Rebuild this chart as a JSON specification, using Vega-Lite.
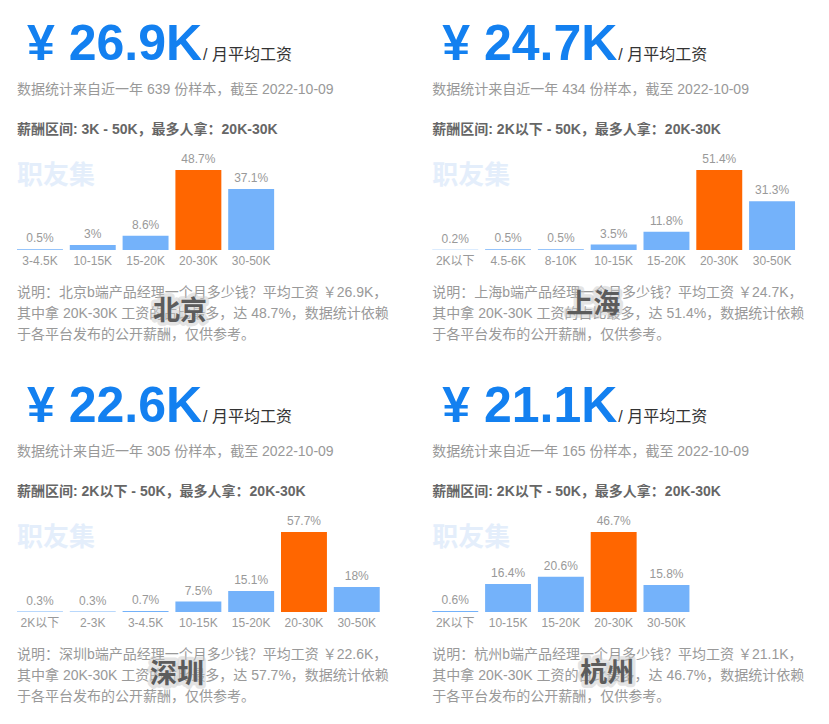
{
  "$schema": "https://vega.github.io/schema/vega-lite/v6.json",
  "background": "white",
  "padding": {"top": 20, "left": 17, "right": 10, "bottom": 10},
  "config": {"view": {"stroke": null}, "font": "Liberation Sans, Noto Sans CJK SC"},
  "datasets": {
    "bars": [
      {"city": "北京", "range": "3-4.5K", "share": 0.005},
      {"city": "北京", "range": "10-15K", "share": 0.03},
      {"city": "北京", "range": "15-20K", "share": 0.086},
      {"city": "北京", "range": "20-30K", "share": 0.487},
      {"city": "北京", "range": "30-50K", "share": 0.371},
      {"city": "上海", "range": "2K以下", "share": 0.002},
      {"city": "上海", "range": "4.5-6K", "share": 0.005},
      {"city": "上海", "range": "8-10K", "share": 0.005},
      {"city": "上海", "range": "10-15K", "share": 0.035},
      {"city": "上海", "range": "15-20K", "share": 0.118},
      {"city": "上海", "range": "20-30K", "share": 0.514},
      {"city": "上海", "range": "30-50K", "share": 0.313},
      {"city": "深圳", "range": "2K以下", "share": 0.003},
      {"city": "深圳", "range": "2-3K", "share": 0.003},
      {"city": "深圳", "range": "3-4.5K", "share": 0.007},
      {"city": "深圳", "range": "10-15K", "share": 0.075},
      {"city": "深圳", "range": "15-20K", "share": 0.151},
      {"city": "深圳", "range": "20-30K", "share": 0.577},
      {"city": "深圳", "range": "30-50K", "share": 0.18},
      {"city": "杭州", "range": "2K以下", "share": 0.006},
      {"city": "杭州", "range": "10-15K", "share": 0.164},
      {"city": "杭州", "range": "15-20K", "share": 0.206},
      {"city": "杭州", "range": "20-30K", "share": 0.467},
      {"city": "杭州", "range": "30-50K", "share": 0.158}
    ],
    "info": [
      {"city": "北京", "headline": "¥ 26.9K", "unit": "/ 月平均工资", "brand": "职友集",
       "source": "数据统计来自近一年 639 份样本，截至 2022-10-09",
       "summary": "薪酬区间: 3K - 50K，最多人拿：20K-30K",
       "note": ["说明：北京b端产品经理一个月多少钱？平均工资 ￥26.9K，", "其中拿 20K-30K 工资的占比最多，达 48.7%，数据统计依赖", "于各平台发布的公开薪酬，仅供参考。"]},
      {"city": "上海", "headline": "¥ 24.7K", "unit": "/ 月平均工资", "brand": "职友集",
       "source": "数据统计来自近一年 434 份样本，截至 2022-10-09",
       "summary": "薪酬区间: 2K以下 - 50K，最多人拿：20K-30K",
       "note": ["说明：上海b端产品经理一个月多少钱？平均工资 ￥24.7K，", "其中拿 20K-30K 工资的占比最多，达 51.4%，数据统计依赖", "于各平台发布的公开薪酬，仅供参考。"]},
      {"city": "深圳", "headline": "¥ 22.6K", "unit": "/ 月平均工资", "brand": "职友集",
       "source": "数据统计来自近一年 305 份样本，截至 2022-10-09",
       "summary": "薪酬区间: 2K以下 - 50K，最多人拿：20K-30K",
       "note": ["说明：深圳b端产品经理一个月多少钱？平均工资 ￥22.6K，", "其中拿 20K-30K 工资的占比最多，达 57.7%，数据统计依赖", "于各平台发布的公开薪酬，仅供参考。"]},
      {"city": "杭州", "headline": "¥ 21.1K", "unit": "/ 月平均工资", "brand": "职友集",
       "source": "数据统计来自近一年 165 份样本，截至 2022-10-09",
       "summary": "薪酬区间: 2K以下 - 50K，最多人拿：20K-30K",
       "note": ["说明：杭州b端产品经理一个月多少钱？平均工资 ￥21.1K，", "其中拿 20K-30K 工资的占比最多，达 46.7%，数据统计依赖", "于各平台发布的公开薪酬，仅供参考。"]}
    ]
  },
  "columns": 2,
  "spacing": {"row": 282, "column": 52.3},
  "bounds": "flush",
  "concat": [
    {
      "width": {"step": 52.8}, "height": 80,
      "layer": [
        {
          "data": {"name": "bars"},
          "transform": [{"filter": "datum.city === '北京'"}],
          "encoding": {
            "x": {"field": "range", "type": "nominal", "sort": null, "scale": {"paddingInner": 0.13, "paddingOuter": 0},
                  "axis": {"title": null, "ticks": false, "tickSize": 0, "domain": false, "labelPadding": 5, "labelAngle": 0, "labelFontSize": 12, "labelColor": "#999999", "labelFont": "Liberation Sans, Noto Sans CJK SC"}},
            "y": {"field": "share", "type": "quantitative", "scale": {"nice": false, "zero": true}, "axis": null}
          },
          "layer": [
            {"mark": {"type": "bar"}, "encoding": {"color": {"condition": {"test": "datum.range === '20-30K'", "value": "#ff6600"}, "value": "#74b2fa"}}},
            {"mark": {"type": "text", "baseline": "alphabetic", "dy": -7, "fontSize": 12, "color": "#999999", "font": "Liberation Sans"},
             "encoding": {"text": {"field": "share", "type": "quantitative", "format": ".1~%"}}}
          ]
        },
        {
          "data": {"name": "info"},
          "transform": [{"filter": "datum.city === '北京'"}],
          "layer": [
            {"mark": {"type": "text", "align": "left", "baseline": "middle", "fontSize": 26, "fontWeight": "bold", "color": "#e4eefb", "font": "Noto Sans CJK SC"}, "encoding": {"x": {"value": 0}, "y": {"value": 6}, "text": {"field": "brand"}}},
            {"mark": {"type": "text", "align": "left", "baseline": "alphabetic", "fontSize": 50, "fontWeight": "bold", "color": "#1380f0", "font": "Liberation Sans"}, "encoding": {"x": {"value": 10}, "y": {"value": -110}, "text": {"field": "headline"}}},
            {"mark": {"type": "text", "align": "left", "baseline": "alphabetic", "fontSize": 16, "color": "#333333"}, "encoding": {"x": {"value": 186}, "y": {"value": -110}, "text": {"field": "unit"}}},
            {"mark": {"type": "text", "align": "left", "baseline": "middle", "fontSize": 14, "color": "#999999"}, "encoding": {"x": {"value": 0}, "y": {"value": -80}, "text": {"field": "source"}}},
            {"mark": {"type": "text", "align": "left", "baseline": "middle", "fontSize": 14, "fontWeight": "bold", "color": "#666666"}, "encoding": {"x": {"value": 0}, "y": {"value": -40}, "text": {"field": "summary"}}},
            {"mark": {"type": "text", "align": "left", "baseline": "top", "fontSize": 14, "lineHeight": 21, "color": "#999999"}, "encoding": {"x": {"value": 0}, "y": {"value": 116}, "text": {"field": "note"}}},
            {"mark": {"type": "text", "align": "center", "baseline": "middle", "fontSize": 27, "fontWeight": "bold", "color": "#c8c8c8", "stroke": "#c8c8c8", "strokeWidth": 7, "strokeOpacity": 0.6, "strokeJoin": "round", "opacity": 0.8, "font": "Noto Sans CJK SC"}, "encoding": {"x": {"value": 163}, "y": {"value": 142}, "text": {"field": "city"}}},
            {"mark": {"type": "text", "align": "center", "baseline": "middle", "fontSize": 27, "fontWeight": "bold", "color": "#5c5c5c", "font": "Noto Sans CJK SC"}, "encoding": {"x": {"value": 163}, "y": {"value": 142}, "text": {"field": "city"}}}
          ]
        }
      ]
    },
    {
      "width": {"step": 52.8}, "height": 80,
      "layer": [
        {
          "data": {"name": "bars"},
          "transform": [{"filter": "datum.city === '上海'"}],
          "encoding": {
            "x": {"field": "range", "type": "nominal", "sort": null, "scale": {"paddingInner": 0.13, "paddingOuter": 0},
                  "axis": {"title": null, "ticks": false, "tickSize": 0, "domain": false, "labelPadding": 5, "labelAngle": 0, "labelFontSize": 12, "labelColor": "#999999", "labelFont": "Liberation Sans, Noto Sans CJK SC"}},
            "y": {"field": "share", "type": "quantitative", "scale": {"nice": false, "zero": true}, "axis": null}
          },
          "layer": [
            {"mark": {"type": "bar"}, "encoding": {"color": {"condition": {"test": "datum.range === '20-30K'", "value": "#ff6600"}, "value": "#74b2fa"}}},
            {"mark": {"type": "text", "baseline": "alphabetic", "dy": -7, "fontSize": 12, "color": "#999999", "font": "Liberation Sans"},
             "encoding": {"text": {"field": "share", "type": "quantitative", "format": ".1~%"}}}
          ]
        },
        {
          "data": {"name": "info"},
          "transform": [{"filter": "datum.city === '上海'"}],
          "layer": [
            {"mark": {"type": "text", "align": "left", "baseline": "middle", "fontSize": 26, "fontWeight": "bold", "color": "#e4eefb", "font": "Noto Sans CJK SC"}, "encoding": {"x": {"value": 0}, "y": {"value": 6}, "text": {"field": "brand"}}},
            {"mark": {"type": "text", "align": "left", "baseline": "alphabetic", "fontSize": 50, "fontWeight": "bold", "color": "#1380f0", "font": "Liberation Sans"}, "encoding": {"x": {"value": 10}, "y": {"value": -110}, "text": {"field": "headline"}}},
            {"mark": {"type": "text", "align": "left", "baseline": "alphabetic", "fontSize": 16, "color": "#333333"}, "encoding": {"x": {"value": 186}, "y": {"value": -110}, "text": {"field": "unit"}}},
            {"mark": {"type": "text", "align": "left", "baseline": "middle", "fontSize": 14, "color": "#999999"}, "encoding": {"x": {"value": 0}, "y": {"value": -80}, "text": {"field": "source"}}},
            {"mark": {"type": "text", "align": "left", "baseline": "middle", "fontSize": 14, "fontWeight": "bold", "color": "#666666"}, "encoding": {"x": {"value": 0}, "y": {"value": -40}, "text": {"field": "summary"}}},
            {"mark": {"type": "text", "align": "left", "baseline": "top", "fontSize": 14, "lineHeight": 21, "color": "#999999"}, "encoding": {"x": {"value": 0}, "y": {"value": 116}, "text": {"field": "note"}}},
            {"mark": {"type": "text", "align": "center", "baseline": "middle", "fontSize": 27, "fontWeight": "bold", "color": "#c8c8c8", "stroke": "#c8c8c8", "strokeWidth": 7, "strokeOpacity": 0.6, "strokeJoin": "round", "opacity": 0.8, "font": "Noto Sans CJK SC"}, "encoding": {"x": {"value": 161}, "y": {"value": 135}, "text": {"field": "city"}}},
            {"mark": {"type": "text", "align": "center", "baseline": "middle", "fontSize": 27, "fontWeight": "bold", "color": "#5c5c5c", "font": "Noto Sans CJK SC"}, "encoding": {"x": {"value": 161}, "y": {"value": 135}, "text": {"field": "city"}}}
          ]
        }
      ]
    },
    {
      "width": {"step": 52.8}, "height": 80,
      "layer": [
        {
          "data": {"name": "bars"},
          "transform": [{"filter": "datum.city === '深圳'"}],
          "encoding": {
            "x": {"field": "range", "type": "nominal", "sort": null, "scale": {"paddingInner": 0.13, "paddingOuter": 0},
                  "axis": {"title": null, "ticks": false, "tickSize": 0, "domain": false, "labelPadding": 5, "labelAngle": 0, "labelFontSize": 12, "labelColor": "#999999", "labelFont": "Liberation Sans, Noto Sans CJK SC"}},
            "y": {"field": "share", "type": "quantitative", "scale": {"nice": false, "zero": true}, "axis": null}
          },
          "layer": [
            {"mark": {"type": "bar"}, "encoding": {"color": {"condition": {"test": "datum.range === '20-30K'", "value": "#ff6600"}, "value": "#74b2fa"}}},
            {"mark": {"type": "text", "baseline": "alphabetic", "dy": -7, "fontSize": 12, "color": "#999999", "font": "Liberation Sans"},
             "encoding": {"text": {"field": "share", "type": "quantitative", "format": ".1~%"}}}
          ]
        },
        {
          "data": {"name": "info"},
          "transform": [{"filter": "datum.city === '深圳'"}],
          "layer": [
            {"mark": {"type": "text", "align": "left", "baseline": "middle", "fontSize": 26, "fontWeight": "bold", "color": "#e4eefb", "font": "Noto Sans CJK SC"}, "encoding": {"x": {"value": 0}, "y": {"value": 6}, "text": {"field": "brand"}}},
            {"mark": {"type": "text", "align": "left", "baseline": "alphabetic", "fontSize": 50, "fontWeight": "bold", "color": "#1380f0", "font": "Liberation Sans"}, "encoding": {"x": {"value": 10}, "y": {"value": -110}, "text": {"field": "headline"}}},
            {"mark": {"type": "text", "align": "left", "baseline": "alphabetic", "fontSize": 16, "color": "#333333"}, "encoding": {"x": {"value": 186}, "y": {"value": -110}, "text": {"field": "unit"}}},
            {"mark": {"type": "text", "align": "left", "baseline": "middle", "fontSize": 14, "color": "#999999"}, "encoding": {"x": {"value": 0}, "y": {"value": -80}, "text": {"field": "source"}}},
            {"mark": {"type": "text", "align": "left", "baseline": "middle", "fontSize": 14, "fontWeight": "bold", "color": "#666666"}, "encoding": {"x": {"value": 0}, "y": {"value": -40}, "text": {"field": "summary"}}},
            {"mark": {"type": "text", "align": "left", "baseline": "top", "fontSize": 14, "lineHeight": 21, "color": "#999999"}, "encoding": {"x": {"value": 0}, "y": {"value": 116}, "text": {"field": "note"}}},
            {"mark": {"type": "text", "align": "center", "baseline": "middle", "fontSize": 27, "fontWeight": "bold", "color": "#c8c8c8", "stroke": "#c8c8c8", "strokeWidth": 7, "strokeOpacity": 0.6, "strokeJoin": "round", "opacity": 0.8, "font": "Noto Sans CJK SC"}, "encoding": {"x": {"value": 160}, "y": {"value": 143}, "text": {"field": "city"}}},
            {"mark": {"type": "text", "align": "center", "baseline": "middle", "fontSize": 27, "fontWeight": "bold", "color": "#5c5c5c", "font": "Noto Sans CJK SC"}, "encoding": {"x": {"value": 160}, "y": {"value": 143}, "text": {"field": "city"}}}
          ]
        }
      ]
    },
    {
      "width": {"step": 52.8}, "height": 80,
      "layer": [
        {
          "data": {"name": "bars"},
          "transform": [{"filter": "datum.city === '杭州'"}],
          "encoding": {
            "x": {"field": "range", "type": "nominal", "sort": null, "scale": {"paddingInner": 0.13, "paddingOuter": 0},
                  "axis": {"title": null, "ticks": false, "tickSize": 0, "domain": false, "labelPadding": 5, "labelAngle": 0, "labelFontSize": 12, "labelColor": "#999999", "labelFont": "Liberation Sans, Noto Sans CJK SC"}},
            "y": {"field": "share", "type": "quantitative", "scale": {"nice": false, "zero": true}, "axis": null}
          },
          "layer": [
            {"mark": {"type": "bar"}, "encoding": {"color": {"condition": {"test": "datum.range === '20-30K'", "value": "#ff6600"}, "value": "#74b2fa"}}},
            {"mark": {"type": "text", "baseline": "alphabetic", "dy": -7, "fontSize": 12, "color": "#999999", "font": "Liberation Sans"},
             "encoding": {"text": {"field": "share", "type": "quantitative", "format": ".1~%"}}}
          ]
        },
        {
          "data": {"name": "info"},
          "transform": [{"filter": "datum.city === '杭州'"}],
          "layer": [
            {"mark": {"type": "text", "align": "left", "baseline": "middle", "fontSize": 26, "fontWeight": "bold", "color": "#e4eefb", "font": "Noto Sans CJK SC"}, "encoding": {"x": {"value": 0}, "y": {"value": 6}, "text": {"field": "brand"}}},
            {"mark": {"type": "text", "align": "left", "baseline": "alphabetic", "fontSize": 50, "fontWeight": "bold", "color": "#1380f0", "font": "Liberation Sans"}, "encoding": {"x": {"value": 10}, "y": {"value": -110}, "text": {"field": "headline"}}},
            {"mark": {"type": "text", "align": "left", "baseline": "alphabetic", "fontSize": 16, "color": "#333333"}, "encoding": {"x": {"value": 186}, "y": {"value": -110}, "text": {"field": "unit"}}},
            {"mark": {"type": "text", "align": "left", "baseline": "middle", "fontSize": 14, "color": "#999999"}, "encoding": {"x": {"value": 0}, "y": {"value": -80}, "text": {"field": "source"}}},
            {"mark": {"type": "text", "align": "left", "baseline": "middle", "fontSize": 14, "fontWeight": "bold", "color": "#666666"}, "encoding": {"x": {"value": 0}, "y": {"value": -40}, "text": {"field": "summary"}}},
            {"mark": {"type": "text", "align": "left", "baseline": "top", "fontSize": 14, "lineHeight": 21, "color": "#999999"}, "encoding": {"x": {"value": 0}, "y": {"value": 116}, "text": {"field": "note"}}},
            {"mark": {"type": "text", "align": "center", "baseline": "middle", "fontSize": 27, "fontWeight": "bold", "color": "#c8c8c8", "stroke": "#c8c8c8", "strokeWidth": 7, "strokeOpacity": 0.6, "strokeJoin": "round", "opacity": 0.8, "font": "Noto Sans CJK SC"}, "encoding": {"x": {"value": 175}, "y": {"value": 142}, "text": {"field": "city"}}},
            {"mark": {"type": "text", "align": "center", "baseline": "middle", "fontSize": 27, "fontWeight": "bold", "color": "#5c5c5c", "font": "Noto Sans CJK SC"}, "encoding": {"x": {"value": 175}, "y": {"value": 142}, "text": {"field": "city"}}}
          ]
        }
      ]
    }
  ]
}
